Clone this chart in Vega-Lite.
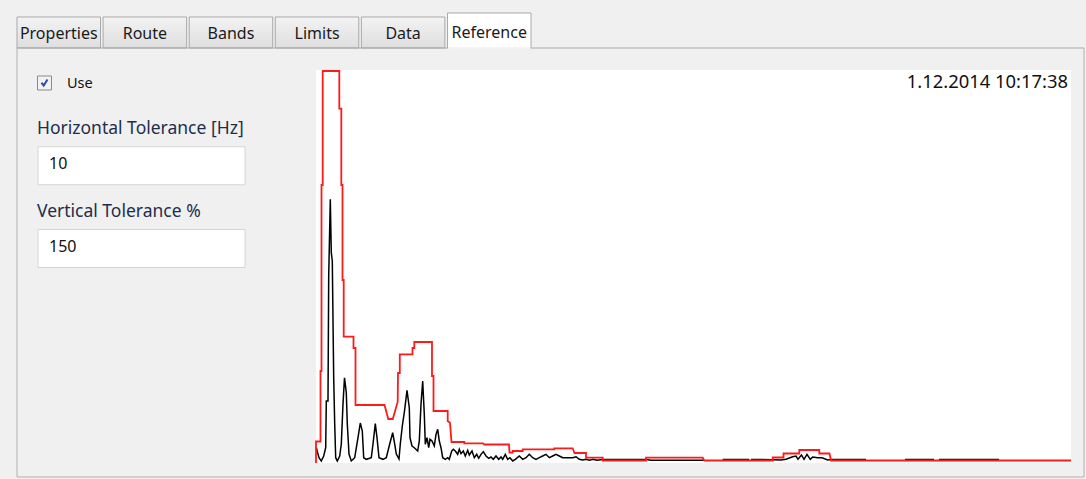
{
  "$schema": "https://vega.github.io/schema/vega-lite/v6.json",
  "background": "#f0f0f0",
  "padding": {"left": 16, "top": 12, "right": 3, "bottom": 3},
  "autosize": {"type": "pad"},
  "config": {"view": {"stroke": null}, "font": "Noto Sans", "text": {"font": "Noto Sans"}},
  "datasets": {
    "spectrum": [
      {"f":0.4,"a":3.89},{"f":3.97,"a":1.35},{"f":7.02,"a":0.51},{"f":10.2,"a":1.78},{"f":12.85,"a":3.89},{"f":13.64,"a":15.78},{"f":15.89,"a":15.78},{"f":16.82,"a":47.58},{"f":18.94,"a":67.1},{"f":20.26,"a":53.51},{"f":21.59,"a":51.4},{"f":23.44,"a":21.7},{"f":24.77,"a":9.92},{"f":26.09,"a":1.35},{"f":28.21,"a":0.51},{"f":31.39,"a":1.78},{"f":33.51,"a":4.83},{"f":35.76,"a":15.01},{"f":37.75,"a":21.7},{"f":40.13,"a":17.89},{"f":41.46,"a":9.92},{"f":43.71,"a":2.29},{"f":46.75,"a":0.51},{"f":51.26,"a":1.35},{"f":55.63,"a":6.44},{"f":58.68,"a":10.18},{"f":61.32,"a":8.14},{"f":63.18,"a":1.35},{"f":66.62,"a":0.94},{"f":73.24,"a":1.35},{"f":75.5,"a":4.83},{"f":78.54,"a":10.0},{"f":80.79,"a":6.44},{"f":83.44,"a":1.35},{"f":88.74,"a":0.94},{"f":93.11,"a":1.35},{"f":97.61,"a":4.83},{"f":101.59,"a":7.71},{"f":104.24,"a":4.83},{"f":106.36,"a":2.29},{"f":109.93,"a":1.02},{"f":111.66,"a":4.83},{"f":114.3,"a":9.41},{"f":117.22,"a":13.23},{"f":120.53,"a":18.5},{"f":123.58,"a":14.07},{"f":124.5,"a":6.44},{"f":127.15,"a":4.33},{"f":130.2,"a":3.89},{"f":134.7,"a":3.05},{"f":136.82,"a":5.6},{"f":139.07,"a":14.94},{"f":141.32,"a":20.86},{"f":143.44,"a":12.39},{"f":144.77,"a":4.76},{"f":147.02,"a":6.44},{"f":149.27,"a":3.89},{"f":150.99,"a":6.03},{"f":153.64,"a":5.6},{"f":156.69,"a":4.33},{"f":158.94,"a":7.3},{"f":161.19,"a":8.58},{"f":163.31,"a":5.6},{"f":165.56,"a":3.89},{"f":167.81,"a":1.35},{"f":171.26,"a":0.94},{"f":174.44,"a":1.35},{"f":176.56,"a":0.94},{"f":179.74,"a":3.05},{"f":181.85,"a":3.49},{"f":184.5,"a":3.05},{"f":187.68,"a":2.21},{"f":189.8,"a":3.49},{"f":192.05,"a":2.37},{"f":195.1,"a":3.05},{"f":197.75,"a":1.78},{"f":200.93,"a":3.23},{"f":203.05,"a":2.04},{"f":206.62,"a":3.05},{"f":209.67,"a":1.35},{"f":212.85,"a":2.21},{"f":215.5,"a":1.2},{"f":218.54,"a":2.21},{"f":221.59,"a":2.88},{"f":225.17,"a":1.78},{"f":228.74,"a":1.2},{"f":231.79,"a":1.53},{"f":234.83,"a":0.94},{"f":238.41,"a":1.78},{"f":241.99,"a":0.94},{"f":245.03,"a":1.53},{"f":247.28,"a":0.94},{"f":250.73,"a":2.21},{"f":253.91,"a":0.94},{"f":256.95,"a":1.35},{"f":260.53,"a":0.51},{"f":263.97,"a":0.94},{"f":269.27,"a":1.78},{"f":273.77,"a":0.94},{"f":278.15,"a":1.35},{"f":282.52,"a":2.21},{"f":287.02,"a":1.35},{"f":291.39,"a":0.94},{"f":295.76,"a":1.35},{"f":300.26,"a":1.78},{"f":304.64,"a":2.21},{"f":309.01,"a":1.35},{"f":313.51,"a":1.78},{"f":317.88,"a":2.21},{"f":322.25,"a":1.78},{"f":326.75,"a":1.35},{"f":340.0,"a":1.35},{"f":344.37,"a":1.6},{"f":348.74,"a":0.94},{"f":353.25,"a":0.76},{"f":357.62,"a":0.94},{"f":361.99,"a":0.69},{"f":366.89,"a":0.94},{"f":372.19,"a":0.69},{"f":379.74,"a":0.89},{"f":437.09,"a":0.89},{"f":443.71,"a":0.71},{"f":513.9,"a":0.71},{"f":525,"a":null},{"f":538.68,"a":0.89},{"f":573.91,"a":0.89},{"f":575,"a":null},{"f":576.16,"a":0.89},{"f":604.9,"a":0.84},{"f":615.89,"a":0.76},{"f":622.52,"a":0.94},{"f":631.39,"a":1.6},{"f":635.76,"a":1.78},{"f":638.41,"a":0.94},{"f":643.05,"a":2.04},{"f":646.36,"a":0.94},{"f":650.29,"a":2.21},{"f":654.71,"a":0.94},{"f":657.89,"a":1.53},{"f":664.51,"a":1.35},{"f":670.2,"a":1.35},{"f":677.75,"a":0.76},{"f":682.12,"a":0.89},{"f":728.48,"a":0.89},{"f":755,"a":null},{"f":780.13,"a":0.89},{"f":818.54,"a":0.89},{"f":822,"a":null},{"f":825.16,"a":0.89},{"f":904.63,"a":0.89}
    ],
    "envelope": [
      {"f":0,"a":0},{"f":0,"a":5.47},{"f":5.96,"a":5.47},{"f":5.96,"a":23.41},{"f":7.28,"a":23.41},{"f":7.28,"a":70.74},{"f":8.87,"a":70.74},{"f":8.87,"a":99.75},{"f":30.86,"a":99.75},{"f":30.86,"a":90.15},{"f":33.51,"a":90.15},{"f":33.51,"a":70.74},{"f":35.1,"a":70.74},{"f":35.1,"a":46.56},{"f":36.69,"a":46.56},{"f":36.69,"a":32.14},{"f":49.67,"a":32.14},{"f":49.67,"a":29.26},{"f":52.32,"a":29.26},{"f":52.32,"a":14.76},{"f":90.73,"a":14.76},{"f":95.76,"a":11.2},{"f":101.72,"a":11.2},{"f":108.21,"a":15.6},{"f":108.61,"a":22.9},{"f":110.99,"a":22.9},{"f":110.99,"a":27.66},{"f":127.81,"a":27.66},{"f":127.81,"a":29.26},{"f":130.2,"a":29.26},{"f":130.2,"a":30.79},{"f":153.64,"a":30.79},{"f":153.64,"a":22.14},{"f":155.63,"a":22.14},{"f":155.63,"a":13.23},{"f":174.44,"a":13.23},{"f":174.44,"a":10.69},{"f":177.48,"a":10.25},{"f":179.47,"a":5.34},{"f":196.42,"a":5.34},{"f":196.42,"a":5.01},{"f":221.19,"a":5.01},{"f":222.91,"a":4.71},{"f":255.63,"a":4.71},{"f":256.29,"a":2.62},{"f":260.53,"a":2.62},{"f":260.53,"a":3.05},{"f":273.77,"a":3.05},{"f":273.77,"a":3.49},{"f":315.63,"a":3.49},{"f":315.63,"a":3.74},{"f":340.0,"a":3.74},{"f":342.38,"a":2.54},{"f":357.62,"a":2.54},{"f":357.62,"a":1.35},{"f":379.74,"a":1.35},{"f":379.74,"a":0.64},{"f":437.09,"a":0.64},{"f":437.09,"a":1.35},{"f":512.19,"a":1.35},{"f":514.3,"a":0.64},{"f":604.9,"a":0.64},{"f":604.9,"a":1.4},{"f":619.21,"a":1.4},{"f":619.21,"a":2.42},{"f":640.13,"a":2.42},{"f":640.13,"a":3.31},{"f":666.62,"a":3.31},{"f":666.62,"a":2.42},{"f":680.13,"a":2.42},{"f":682.12,"a":0.64},{"f":1000,"a":0.64}
    ]
  },
  "bounds": "flush",
  "spacing": 22,
  "vconcat": [
    {
      "width": 514,
      "height": 35,
      "data": {"values": [{"tab": "Properties", "sel": false}, {"tab": "Route", "sel": false}, {"tab": "Bands", "sel": false}, {"tab": "Limits", "sel": false}, {"tab": "Data", "sel": false}, {"tab": "Reference", "sel": true}]},
      "layer": [
        {
          "transform": [{"filter": "!datum.sel"}],
          "mark": {"type": "rect", "stroke": "#a9a9a9", "strokeWidth": 1, "fill": {"gradient": "linear", "x1": 0, "y1": 0, "x2": 0, "y2": 1, "stops": [{"offset": 0, "color": "#f3f3f3"}, {"offset": 1, "color": "#dedede"}]}},
          "encoding": {
            "x": {"field": "tab", "type": "nominal", "sort": null, "scale": {"domain": ["Properties", "Route", "Bands", "Limits", "Data", "Reference"], "paddingInner": 0.03, "paddingOuter": 0}, "axis": null},
            "y": {"datum": "t", "type": "nominal", "scale": {"domain": ["t"], "paddingInner": 0, "paddingOuter": 0.0645, "align": 1}, "axis": null}
          }
        },
        {
          "transform": [{"filter": "datum.sel"}],
          "mark": {"type": "rect", "stroke": "#a9a9a9", "strokeWidth": 1, "fill": "white"},
          "encoding": {"x": {"field": "tab", "type": "nominal", "sort": null, "axis": null}}
        },
        {
          "transform": [{"filter": "!datum.sel"}],
          "mark": {"type": "text", "fontSize": 16, "baseline": "alphabetic", "dy": 7, "color": "#1a1a1a"},
          "encoding": {
            "x": {"field": "tab", "type": "nominal", "sort": null, "axis": null},
            "y": {"datum": "t", "type": "nominal", "axis": null},
            "text": {"field": "tab"}
          }
        },
        {
          "transform": [{"filter": "datum.sel"}],
          "mark": {"type": "text", "fontSize": 16, "baseline": "alphabetic", "dy": 7, "color": "#1a1a1a"},
          "encoding": {
            "x": {"field": "tab", "type": "nominal", "sort": null, "axis": null},
            "text": {"field": "tab"}
          }
        }
      ]
    },
    {
      "bounds": "flush",
      "spacing": 71,
      "hconcat": [
        {
          "width": 228,
          "height": 191.5,
          "data": {"values": [
            {"row": "use", "label": "Use"},
            {"row": "h", "label": "Horizontal Tolerance [Hz]", "value": "10"},
            {"row": "v", "label": "Vertical Tolerance %", "value": "150"}
          ]},
          "encoding": {
            "y": {"field": "row", "type": "nominal", "sort": null, "scale": {"type": "point", "domain": ["use", "h", "v"], "padding": 0.157, "align": 0.5}, "axis": null}
          },
          "layer": [
            {
              "transform": [{"filter": "datum.row !== 'use'"}],
              "mark": {"type": "bar", "size": 38, "fill": "white", "stroke": "#d4d4d4", "strokeWidth": 1},
              "encoding": {
                "x": {"datum": 0.0921, "type": "quantitative", "scale": {"domain": [0, 1]}, "axis": null},
                "x2": {"datum": 1}
              }
            },
            {
              "transform": [{"filter": "datum.row !== 'use'"}],
              "mark": {"type": "text", "align": "left", "baseline": "alphabetic", "dx": 32, "dy": 3, "fontSize": 16, "color": "#111111"},
              "encoding": {
                "x": {"datum": 0, "type": "quantitative", "scale": {"domain": [0, 1]}, "axis": null},
                "text": {"field": "value"}
              }
            },
            {
              "transform": [{"filter": "datum.row !== 'use'"}],
              "mark": {"type": "text", "align": "left", "baseline": "alphabetic", "dx": 20, "dy": -31.7, "fontSize": 17.5, "color": "#1f2d4d"},
              "encoding": {
                "x": {"datum": 0, "type": "quantitative", "scale": {"domain": [0, 1]}, "axis": null},
                "text": {"field": "label"}
              }
            },
            {
              "transform": [{"filter": "datum.row === 'use'"}],
              "mark": {"type": "text", "align": "left", "baseline": "alphabetic", "dx": 50, "dy": 4.7, "fontSize": 14.5, "color": "#111111"},
              "encoding": {
                "x": {"datum": 0, "type": "quantitative", "scale": {"domain": [0, 1]}, "axis": null},
                "text": {"field": "label"}
              }
            },
            {
              "transform": [{"filter": "datum.row === 'use'"}],
              "mark": {"type": "point", "shape": "square", "size": 196, "filled": true, "fill": "#f2f2f2", "stroke": "#8a8a8a", "strokeWidth": 1, "opacity": 1},
              "encoding": {
                "x": {"datum": 0.1206, "type": "quantitative", "scale": {"domain": [0, 1]}, "axis": null}
              }
            },
            {
              "transform": [{"filter": "datum.row === 'use'"}],
              "mark": {"type": "point", "shape": "M -0.6 -0.05 L -0.15 0.5 L 0.6 -0.7", "size": 100, "filled": false, "stroke": "#2d4aa5", "strokeWidth": 2, "opacity": 1},
              "encoding": {
                "x": {"datum": 0.1206, "type": "quantitative", "scale": {"domain": [0, 1]}, "axis": null}
              }
            }
          ]
        },
        {
          "width": 768,
          "height": 407,
          "layer": [
            {
              "data": {"values": [{}]},
              "mark": {"type": "rect", "fill": "white"},
              "encoding": {
                "x": {"datum": 0, "type": "quantitative", "scale": {"domain": [0, 1017.22], "nice": false, "zero": false}, "axis": null},
                "x2": {"datum": 1000},
                "y": {"datum": 0, "type": "quantitative", "scale": {"domain": [-3.5623, 100], "nice": false, "zero": false}, "axis": null},
                "y2": {"datum": 100}
              }
            },
            {
              "data": {"values": [{}]},
              "mark": {"type": "rule", "color": "#b0b0b0", "strokeWidth": 1},
              "encoding": {
                "x": {"datum": -396, "type": "quantitative"},
                "y": {"datum": 105.6, "type": "quantitative"},
                "y2": {"datum": -3.5623}
              }
            },
            {
              "data": {"values": [{}]},
              "mark": {"type": "rule", "color": "#b0b0b0", "strokeWidth": 1},
              "encoding": {
                "x": {"datum": -396, "type": "quantitative"},
                "x2": {"datum": 1017.22},
                "y": {"datum": -3.5623, "type": "quantitative"}
              }
            },
            {
              "data": {"values": [{}]},
              "mark": {"type": "rule", "color": "#b0b0b0", "strokeWidth": 1},
              "encoding": {
                "x": {"datum": 1017.22, "type": "quantitative"},
                "y": {"datum": 105.6, "type": "quantitative"},
                "y2": {"datum": -3.5623}
              }
            },
            {
              "data": {"values": [{}]},
              "mark": {"type": "rule", "color": "#a9a9a9", "strokeWidth": 1},
              "encoding": {
                "x": {"datum": -396, "type": "quantitative"},
                "x2": {"datum": 174.2},
                "y": {"datum": 105.6, "type": "quantitative"}
              }
            },
            {
              "data": {"values": [{}]},
              "mark": {"type": "rule", "color": "#a9a9a9", "strokeWidth": 1},
              "encoding": {
                "x": {"datum": 284.8, "type": "quantitative"},
                "x2": {"datum": 1017.22},
                "y": {"datum": 105.6, "type": "quantitative"}
              }
            },
            {
              "data": {"values": [{}]},
              "mark": {"type": "rule", "color": "#ffffff", "strokeWidth": 1.5},
              "encoding": {
                "x": {"datum": 175, "type": "quantitative"},
                "x2": {"datum": 284},
                "y": {"datum": 105.6, "type": "quantitative"}
              }
            },
            {
              "data": {"name": "spectrum"},
              "mark": {"type": "line", "color": "#000000", "strokeWidth": 1.5, "invalid": "break-paths-show-domains"},
              "encoding": {
                "x": {"field": "f", "type": "quantitative"},
                "y": {"field": "a", "type": "quantitative"},
                "order": {"value": null}
              }
            },
            {
              "data": {"name": "envelope"},
              "mark": {"type": "line", "color": "#ff1a1a", "strokeWidth": 1.8},
              "encoding": {
                "x": {"field": "f", "type": "quantitative"},
                "y": {"field": "a", "type": "quantitative"},
                "order": {"value": null}
              }
            },
            {
              "data": {"values": [{"stamp": "1.12.2014 10:17:38"}]},
              "mark": {"type": "text", "align": "right", "baseline": "alphabetic", "fontSize": 18.4, "color": "#111111"},
              "encoding": {
                "x": {"datum": 996, "type": "quantitative"},
                "y": {"datum": 95.34, "type": "quantitative"},
                "text": {"field": "stamp"}
              }
            }
          ]
        }
      ]
    }
  ]
}
